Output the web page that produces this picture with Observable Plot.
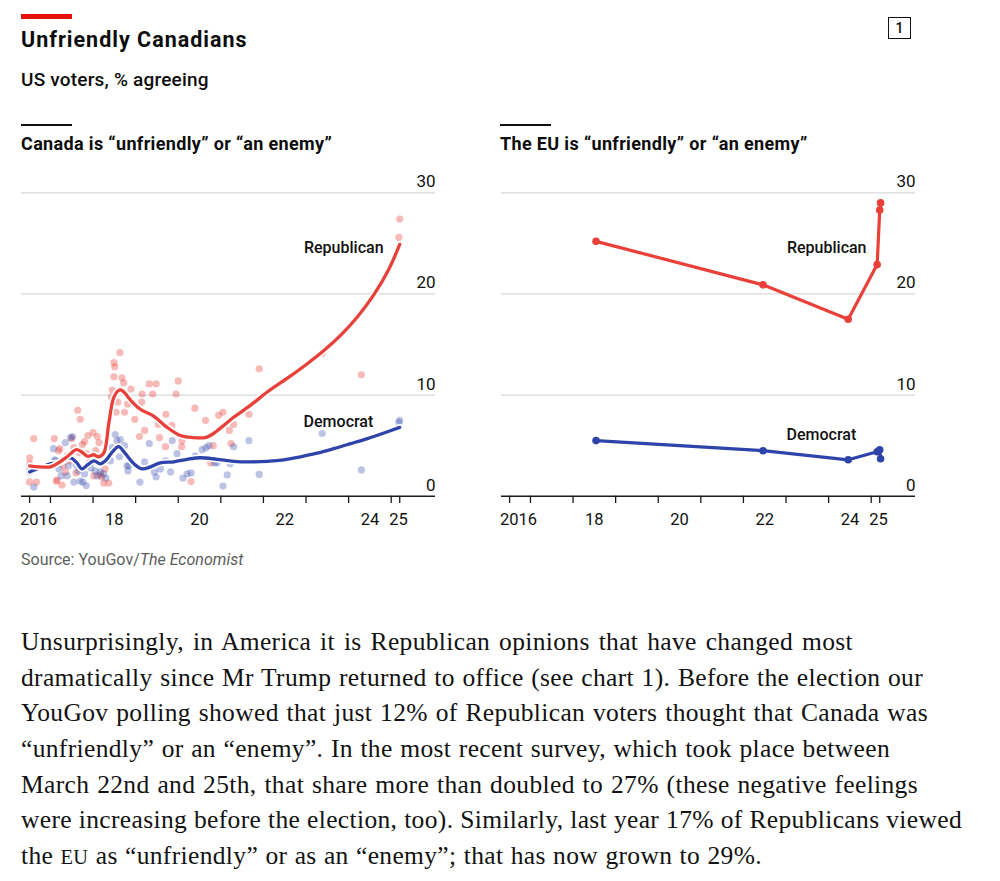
<!DOCTYPE html>
<html>
<head>
<meta charset="utf-8">
<script src="https://cdn.jsdelivr.net/npm/d3@7"></script>
<script src="https://cdn.jsdelivr.net/npm/@observablehq/plot@0.6"></script>
<style>
  html, body { margin: 0; padding: 0; background: #fff; }
  #page { position: relative; width: 1000px; height: 881px; font-family: Roboto, "Noto Sans", sans-serif; color: #0d0d0d; }
  .abs { position: absolute; white-space: nowrap; }
  .para { font-family: "Liberation Serif", serif; font-size: 25.5px; line-height: 35.6px; color: #121212; letter-spacing: 0.35px; }
  .para div { text-align: justify; text-align-last: justify; white-space: nowrap; }
</style>
</head>
<body>
<div id="page">
  <div class="abs" style="left:21px;top:14px;width:51px;height:5px;background:#e3120b"></div>
  <div class="abs" style="left:21px;top:29px;font-size:21.5px;line-height:21.5px;font-weight:700;letter-spacing:1px">Unfriendly Canadians</div>
  <div class="abs" style="left:21px;top:70px;font-size:19px;line-height:19px;font-weight:500;letter-spacing:0.2px">US voters, % agreeing</div>
  <div class="abs" style="left:888px;top:17px;width:21px;height:20px;border:1.5px solid #111;font-size:14px;line-height:20px;text-align:center;font-weight:500">1</div>

  <div class="abs" style="left:21px;top:124px;width:51px;height:1.5px;background:#111"></div>
  <div class="abs" style="left:21px;top:135px;font-size:18px;line-height:18px;font-weight:700;letter-spacing:0.35px">Canada is “unfriendly” or “an enemy”</div>
  <div class="abs" style="left:500px;top:124px;width:51px;height:1.5px;background:#111"></div>
  <div class="abs" style="left:500px;top:135px;font-size:18px;line-height:18px;font-weight:700;letter-spacing:0.35px">The EU is “unfriendly” or “an enemy”</div>

  <div id="left" class="abs" style="left:0px;top:160px"></div>
  <div id="right" class="abs" style="left:480px;top:160px"></div>

  <div class="abs" style="left:21px;top:551.5px;font-size:16px;line-height:16px;color:#5e5e5e">Source: YouGov/<i>The Economist</i></div>

  <div class="abs para" style="left:21px;top:624.3px">
    <div style="width:832px">Unsurprisingly, in America it is Republican opinions that have changed most</div>
    <div style="width:902px">dramatically since Mr Trump returned to office (see chart 1). Before the election our</div>
    <div style="width:907px">YouGov polling showed that just 12% of Republican voters thought that Canada was</div>
    <div style="width:869px">“unfriendly” or an “enemy”. In the most recent survey, which took place between</div>
    <div style="width:897px">March 22nd and 25th, that share more than doubled to 27% (these negative feelings</div>
    <div style="width:941px">were increasing before the election, too). Similarly, last year 17% of Republicans viewed</div>
    <div style="width:741px">the <span style="font-size:0.8em">EU</span> as “unfriendly” or as an “enemy”; that has now grown to 29%.</div>
  </div>
</div>
<script>
// ---- data ----
const canadaRepPolls = [
  [2016.51,3.8],[2016.51,3.2],[2016.51,1.4],[2016.61,5.7],[2016.67,1.4],
  [2017.09,5.7],[2017.14,1.5],[2017.27,1.1],[2017.19,4.5],[2017.22,4.7],[2017.15,1.6],
  [2017.30,3.0],[2017.35,2.4],[2017.40,4.0],[2017.45,3.5],[2017.50,5.7],[2017.55,4.8],
  [2017.60,2.3],[2017.64,8.5],[2017.70,7.6],[2017.68,4.3],[2017.75,5.1],[2017.80,5.4],
  [2017.84,4.2],[2017.88,6.0],[2017.93,3.4],[2018.00,6.3],[2018.02,2.0],[2018.06,4.5],
  [2018.10,5.9],[2018.14,5.3],[2018.17,2.1],[2018.20,1.9],[2018.25,1.3],[2018.28,2.7],
  [2018.37,1.3],[2018.43,9.8],[2018.45,10.5],[2018.49,13.2],[2018.51,12.8],[2018.49,11.8],
  [2018.63,14.2],[2018.68,11.7],[2018.72,11.2],[2018.54,8.3],[2018.58,9.3],[2018.74,8.3],
  [2018.81,9.1],[2018.89,10.6],[2018.98,7.6],[2019.09,5.9],[2019.14,9.3],[2019.15,10.1],
  [2019.21,6.5],[2019.32,11.1],[2019.40,10.1],[2019.48,11.1],[2019.53,7.1],[2019.56,5.8],
  [2019.70,4.9],[2019.71,8.1],[2019.85,7.0],[2019.95,10.1],[2020.00,11.4],[2020.08,4.9],
  [2020.09,5.5],[2020.30,1.45],[2020.39,8.7],[2020.64,7.5],[2020.76,3.3],[2020.82,5.0],
  [2020.95,8.0],[2021.05,8.3],[2021.20,6.5],[2021.24,5.2],[2021.30,7.1],[2021.66,8.1],
  [2021.90,12.6],[2023.38,14.1],[2024.30,12.0],[2025.18,25.6],[2025.20,27.4]
];
const canadaDemPolls = [
  [2016.51,2.9],[2016.51,2.4],[2016.61,0.9],[2017.07,4.7],[2017.10,3.6],[2017.12,3.5],
  [2017.20,2.7],[2017.25,2.0],[2017.35,5.3],[2017.39,2.0],[2017.42,3.0],[2017.47,5.8],
  [2017.52,5.9],[2017.55,1.4],[2017.60,3.1],[2017.65,2.5],[2017.70,1.5],[2017.76,1.4],
  [2017.80,2.2],[2017.84,1.05],[2017.90,3.2],[2017.95,2.8],[2018.00,3.5],[2018.05,2.5],
  [2018.10,2.0],[2018.17,2.4],[2018.25,2.2],[2018.30,1.8],[2018.41,3.5],[2018.45,4.8],
  [2018.52,6.1],[2018.56,5.5],[2018.64,5.6],[2018.62,3.9],[2018.74,5.0],[2018.80,3.0],
  [2018.82,2.5],[2018.84,3.0],[2019.10,1.4],[2019.21,3.4],[2019.32,5.2],[2019.44,2.4],
  [2019.48,1.9],[2019.58,2.7],[2019.70,3.5],[2019.82,2.4],[2019.86,5.5],[2019.97,4.2],
  [2020.11,1.8],[2020.21,2.2],[2020.30,2.3],[2020.40,4.0],[2020.56,4.6],[2020.65,4.8],
  [2020.72,5.0],[2020.85,3.3],[2020.91,3.3],[2021.05,1.0],[2021.15,2.1],[2021.22,3.2],
  [2021.30,4.9],[2021.66,5.5],[2021.90,2.15],[2023.38,6.2],[2024.30,2.6],[2025.18,7.3],
  [2025.20,7.5]
];
const canadaRepTrend = [
  [2016.51,3.0],[2016.76,2.9],[2017.0,2.9],[2017.19,3.3],[2017.39,3.9],[2017.61,4.6],
  [2017.74,4.35],[2017.87,3.95],[2018.02,4.1],[2018.13,3.9],[2018.25,4.25],[2018.37,7.2],
  [2018.49,9.8],[2018.62,10.5],[2018.70,10.4],[2018.88,9.5],[2019.11,8.6],[2019.43,7.9],
  [2019.74,6.8],[2020.05,6.0],[2020.33,5.8],[2020.64,5.8],[2020.83,6.2],[2021.07,7.0],
  [2021.30,7.8],[2021.70,9.0],[2022.09,10.3],[2022.64,11.9],[2023.03,13.1],[2023.42,14.4],
  [2023.81,15.9],[2024.20,17.7],[2024.59,19.9],[2024.95,22.5],[2025.20,24.9]
];
const canadaDemTrend = [
  [2016.51,2.4],[2016.68,2.7],[2017.0,3.2],[2017.23,3.35],[2017.47,3.8],[2017.61,3.35],
  [2017.74,2.7],[2017.87,3.1],[2018.02,3.5],[2018.17,3.2],[2018.29,3.5],[2018.45,4.35],
  [2018.60,4.9],[2018.76,4.2],[2018.96,3.2],[2019.15,2.7],[2019.35,2.9],[2019.58,3.3],
  [2019.90,3.4],[2020.21,3.65],[2020.52,3.8],[2020.91,3.65],[2021.30,3.45],[2021.70,3.4],
  [2022.09,3.45],[2022.48,3.6],[2022.87,3.9],[2023.26,4.25],[2023.65,4.7],[2024.05,5.2],
  [2024.44,5.7],[2024.83,6.25],[2025.20,6.8]
];
const euYears = [2018.54, 2022.46, 2024.46, 2025.14, 2025.20, 2025.22];
const euRep = [25.2, 20.9, 17.5, 22.9, 28.3, 29.0];
const euDem = [5.5, 4.5, 3.6, 4.4, 4.6, 3.7];

const xTicks = [2016.51, 2017, 2018, 2019, 2020, 2021, 2022, 2023, 2024, 2025, 2025.2];
const xLabelYears = [2016.72, 2018.5, 2020.5, 2022.5, 2024.5, 2025.17];
const xLabels = ["2016", "18", "20", "22", "24", "25"];
const yTicks = [0, 10, 20, 30];

const RED = "#e9403a";
const BLUE = "#2f44aa";

function baseMarks() {
  return [
    Plot.ruleY([10, 20, 30], {stroke: "#d9d9d9", strokeWidth: 1.2}),
    Plot.text(yTicks, {y: d => d, text: d => String(d), frameAnchor: "right", textAnchor: "end", dy: -11, fontSize: 17, fill: "#111"}),
  ];
}
function axisMarks() {
  return [
    Plot.ruleY([0], {stroke: "#1a1a1a", strokeWidth: 1.4}),
    Plot.ruleX(xTicks, {x: d => d, y1: 0, y2: -0.72, stroke: "#1a1a1a", strokeWidth: 1.3}),
    Plot.text(xLabelYears, {x: d => d, y: 0, text: (d, i) => xLabels[i], dy: 24, fontSize: 16.5, fill: "#111"}),
  ];
}
const common = {
  width: 480, height: 380,
  marginLeft: 21, marginRight: 45, marginTop: 32.3, marginBottom: 44.3,
  x: {domain: [2016.32, 2026.04], axis: null},
  y: {domain: [0, 30], axis: null},
  style: {fontFamily: "Roboto, sans-serif", overflow: "visible"}
};

const left = Plot.plot({
  ...common,
  marks: [
    ...baseMarks(),
    Plot.dot(canadaRepPolls, {x: d => d[0], y: d => d[1], r: 3.6, fill: RED, fillOpacity: 0.36, stroke: "none"}),
    Plot.dot(canadaDemPolls, {x: d => d[0], y: d => d[1], r: 3.6, fill: BLUE, fillOpacity: 0.32, stroke: "none"}),
    Plot.line(canadaDemTrend, {x: d => d[0], y: d => d[1], stroke: "white", strokeWidth: 6.5, curve: "catmull-rom"}),
    Plot.line(canadaDemTrend, {x: d => d[0], y: d => d[1], stroke: BLUE, strokeWidth: 3.3, curve: "catmull-rom"}),
    Plot.line(canadaRepTrend, {x: d => d[0], y: d => d[1], stroke: "white", strokeWidth: 6.5, curve: "catmull-rom"}),
    Plot.line(canadaRepTrend, {x: d => d[0], y: d => d[1], stroke: RED, strokeWidth: 3.3, curve: "catmull-rom"}),
    Plot.text(["Republican"], {x: 2024.82, y: 24.6, text: d => d, textAnchor: "end", fontSize: 16, fontWeight: 500, fill: "#111"}),
    Plot.text(["Democrat"], {x: 2024.58, y: 7.3, text: d => d, textAnchor: "end", fontSize: 16, fontWeight: 500, fill: "#111"}),
    ...axisMarks()
  ]
});
document.getElementById("left").appendChild(left);

const euRepData = euYears.map((x, i) => [x, euRep[i]]);
const euDemData = euYears.map((x, i) => [x, euDem[i]]);
const right = Plot.plot({
  ...common,
  marks: [
    ...baseMarks(),
    Plot.line(euDemData, {x: d => d[0], y: d => d[1], stroke: BLUE, strokeWidth: 3.2}),
    Plot.dot(euDemData, {x: d => d[0], y: d => d[1], r: 3.8, fill: BLUE}),
    Plot.line(euRepData, {x: d => d[0], y: d => d[1], stroke: RED, strokeWidth: 3.2}),
    Plot.dot(euRepData, {x: d => d[0], y: d => d[1], r: 3.8, fill: RED}),
    Plot.text(["Republican"], {x: 2024.89, y: 24.6, text: d => d, textAnchor: "end", fontSize: 16, fontWeight: 500, fill: "#111"}),
    Plot.text(["Democrat"], {x: 2024.65, y: 6.07, text: d => d, textAnchor: "end", fontSize: 16, fontWeight: 500, fill: "#111"}),
    ...axisMarks()
  ]
});
document.getElementById("right").appendChild(right);
</script>
</body>
</html>
